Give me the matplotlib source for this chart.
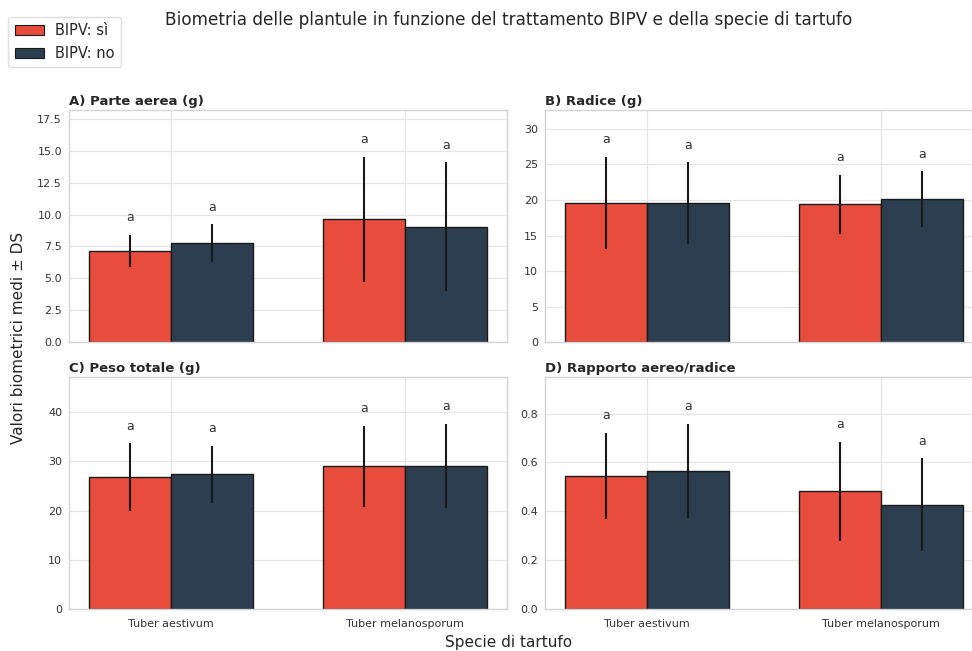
import matplotlib
matplotlib.use("Agg")
import matplotlib.pyplot as plt
from matplotlib.patches import Patch
import numpy as np

plt.rcParams['font.family'] = ['DejaVu Sans']

species = ["Tuber aestivum", "Tuber melanosporum"]
groups = ["BIPV: sì", "BIPV: no"]
colors = ["#E74C3C", "#2C3E50"]

panel_titles = ["A) Parte aerea (g)", "B) Radice (g)",
                "C) Peso totale (g)", "D) Rapporto aereo/radice"]

# mean and standard deviation per species, for BIPV yes / no
aerea_si = [7.14, 9.62]
aerea_si_sd = [1.28, 4.93]
aerea_no = [7.75, 9.05]
aerea_no_sd = [1.50, 5.05]

radice_si = [19.6, 19.4]
radice_si_sd = [6.50, 4.15]
radice_no = [19.6, 20.1]
radice_no_sd = [5.75, 3.95]

totale_si = [26.8, 29.0]
totale_si_sd = [6.90, 8.20]
totale_no = [27.4, 29.1]
totale_no_sd = [5.80, 8.50]

rapporto_si = [0.546, 0.482]
rapporto_si_sd = [0.176, 0.203]
rapporto_no = [0.566, 0.428]
rapporto_no_sd = [0.192, 0.190]

# significance letters (same for all groups)
letters_si = ["a", "a"]
letters_no = ["a", "a"]

panels = [
    (aerea_si, aerea_si_sd, aerea_no, aerea_no_sd),
    (radice_si, radice_si_sd, radice_no, radice_no_sd),
    (totale_si, totale_si_sd, totale_no, totale_no_sd),
    (rapporto_si, rapporto_si_sd, rapporto_no, rapporto_no_sd),
]

fig = plt.figure(figsize=(9.72, 6.51), dpi=100)
fig.patch.set_facecolor("white")
gs = fig.add_gridspec(2, 2, left=0.0710, right=1.0113, bottom=0.0641, top=0.8306,
                      wspace=0.0868, hspace=0.1526)

x = np.arange(len(species))
width = 0.35
grid_c = "#e6e6e6"
spine_c = "#d4d4d4"

for i, (m_si, s_si, m_no, s_no) in enumerate(panels):
    ax = fig.add_subplot(gs[i // 2, i % 2])
    ax.set_facecolor("white")
    ax.set_axisbelow(True)
    series = [(m_si, s_si, letters_si, -width / 2, colors[0]),
              (m_no, s_no, letters_no, width / 2, colors[1])]
    tops = [m + s for m_, s_ in ((m_si, s_si), (m_no, s_no)) for m, s in zip(m_, s_)]
    ymax = max(tops) * 1.25
    for means, sds, lets, off, col in series:
        ax.bar(x + off, means, width, color=col, edgecolor="#1a1a1a", linewidth=1.0,
               zorder=2)
        ax.errorbar(x + off, means, yerr=sds, fmt="none", ecolor="#1a1a1a",
                    elinewidth=1.5, capsize=0, zorder=3)
        for xi, m, s, lt in zip(x + off, means, sds, lets):
            ax.text(xi, m + s + 0.045 * ymax, lt, ha="center", va="bottom",
                    fontsize=9, color="#333333", zorder=4)
    ax.set_ylim(0, ymax)
    ax.set_xticks(x)
    if i >= 2:
        ax.set_xticklabels(species, fontsize=8, color="#333333")
    else:
        ax.set_xticklabels([])
    ax.tick_params(axis="y", length=0, labelsize=8, labelcolor="#333333", pad=5)
    ax.tick_params(axis="x", length=0, labelsize=8, labelcolor="#333333", pad=7)
    ax.grid(True, color=grid_c, linewidth=0.9)
    for sp in ax.spines.values():
        sp.set_color(spine_c)
        sp.set_linewidth(1.0)
    ax.set_title(panel_titles[i], loc="left", fontsize=9.5, fontweight="bold",
                 color="#262626", pad=4)

fig.text(0.523, 0.969, "Biometria delle plantule in funzione del trattamento BIPV e della specie di tartufo",
         ha="center", va="center", fontsize=12.2, color="#262626")
fig.text(0.0195, 0.481, "Valori biometrici medi ± DS", rotation=90,
         ha="center", va="center", fontsize=11, color="#262626")
fig.text(0.523, 0.0138, "Specie di tartufo", ha="center", va="center",
         fontsize=11, color="#262626")

handles = [Patch(facecolor=c, edgecolor="#1a1a1a", linewidth=0.8, label=g)
           for c, g in zip(colors, groups)]
leg = fig.legend(handles=handles, loc="upper left", bbox_to_anchor=(0.0082, 0.974),
                 borderaxespad=0, fontsize=10.5, frameon=True, fancybox=True,
                 borderpad=0.45)
leg.get_frame().set_edgecolor("#d8d8d8")
for t in leg.get_texts():
    t.set_color("#262626")

fig.savefig("out.png", dpi=100, facecolor="white")
